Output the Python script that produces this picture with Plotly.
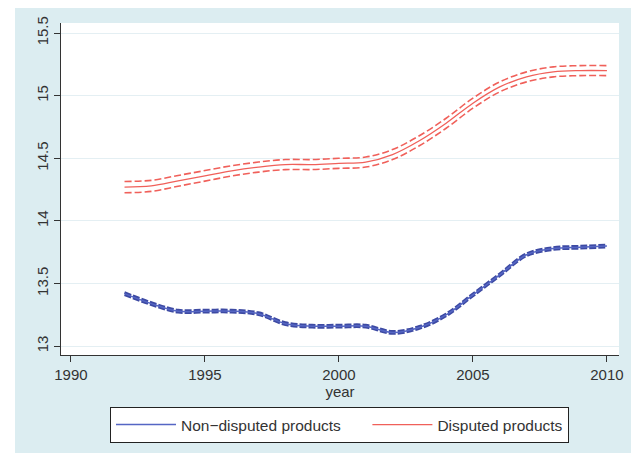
import plotly.graph_objects as go

years = list(range(1992, 2011))
non_disputed = [13.42, 13.34, 13.28, 13.28, 13.28, 13.26, 13.18, 13.16, 13.16, 13.16, 13.11, 13.15, 13.25, 13.41, 13.57, 13.73, 13.78, 13.79, 13.80]
non_disputed_ci = [0.009] * len(years)
disputed = [14.27, 14.28, 14.32, 14.36, 14.40, 14.43, 14.45, 14.45, 14.46, 14.47, 14.53, 14.64, 14.78, 14.94, 15.07, 15.15, 15.19, 15.20, 15.20]
disputed_ci = [0.045, 0.044, 0.043, 0.042, 0.041, 0.04, 0.04, 0.04, 0.04, 0.04, 0.04, 0.04, 0.04, 0.04, 0.04, 0.04, 0.04, 0.04, 0.04]

x_ticks = [1990, 1995, 2000, 2005, 2010]
y_ticks = [13, 13.5, 14, 14.5, 15, 15.5]
y_tick_labels = ["13", "13.5", "14", "14.5", "15", "15.5"]

BLUE = "#3d4aa3"
BLUE_LEG = "#5566c4"
RED = "#f0605a"

fig = go.Figure()

nd_lo = [v - c for v, c in zip(non_disputed, non_disputed_ci)]
nd_hi = [v + c for v, c in zip(non_disputed, non_disputed_ci)]
d_lo = [v - c for v, c in zip(disputed, disputed_ci)]
d_hi = [v + c for v, c in zip(disputed, disputed_ci)]

for arr in (nd_lo, nd_hi):
    fig.add_trace(go.Scatter(x=years, y=arr, mode="lines", line=dict(color=BLUE, width=2.5, dash="7px,2px", shape="spline"),
                             showlegend=False, hoverinfo="skip"))
fig.add_trace(go.Scatter(x=years, y=non_disputed, mode="lines", name="Non\u2212disputed products" + "\u00a0" * 5,
                         line=dict(color=BLUE_LEG, width=1.5, shape="spline")))

for arr in (d_lo, d_hi):
    fig.add_trace(go.Scatter(x=years, y=arr, mode="lines", line=dict(color=RED, width=1.6, dash="7px,3px", shape="spline"),
                             showlegend=False, hoverinfo="skip"))
fig.add_trace(go.Scatter(x=years, y=disputed, mode="lines", name="Disputed products",
                         line=dict(color=RED, width=1.3, shape="spline")))

# page body has an 8px margin, so figure pixel = screen pixel - 8
OFF = 8
L, R, T, B = 61 - OFF, 28, 23 - OFF, 106
W, H = 639, 453
pw, ph = W - L - R, H - T - B

def px_x(p):
    return (p - OFF - L) / pw

def px_y(p):
    return (H - B - (p - OFF)) / ph

shapes = [
    dict(type="rect", xref="paper", yref="paper", x0=px_x(OFF), x1=px_x(15), y0=px_y(470), y1=px_y(OFF),
         fillcolor="white", line=dict(width=0), layer="above"),
    dict(type="rect", xref="paper", yref="paper", x0=px_x(635), x1=px_x(660), y0=px_y(470), y1=px_y(OFF),
         fillcolor="white", line=dict(width=0), layer="above"),
]

font = "Liberation Sans, Arial, sans-serif"

fig.update_layout(
    width=W, height=H,
    margin=dict(l=L, r=R, t=T, b=B, pad=0, autoexpand=False),
    paper_bgcolor="#dcedf1",
    plot_bgcolor="white",
    font=dict(family=font, size=14, color="#222"),
    shapes=shapes,
    xaxis=dict(range=[1989.63, 2010.45], tickvals=x_ticks, showgrid=False, zeroline=False, automargin=False,
               showline=True, linecolor="#333", linewidth=1.2, ticks="outside", ticklen=6, tickcolor="#333",
               tickfont=dict(size=15, color="#333"),
               title=dict(text="year", font=dict(size=15, color="#333"), standoff=2)),
    yaxis=dict(range=[12.93, 15.58], tickvals=y_ticks, ticktext=y_tick_labels, tickangle=-90, automargin=False,
               showgrid=True, gridcolor="#e4eff3", gridwidth=1, zeroline=False,
               showline=True, linecolor="#333", linewidth=1.2, ticks="outside", ticklen=6, tickcolor="#333",
               tickfont=dict(size=15, color="#333")),
    legend=dict(orientation="h", x=px_x(339.5), xanchor="center", y=px_y(407), yanchor="top",
                bgcolor="white", bordercolor="#222", borderwidth=1,
                font=dict(size=15.5, color="#333"), itemwidth=60),
)

fig.write_html("out.html")
